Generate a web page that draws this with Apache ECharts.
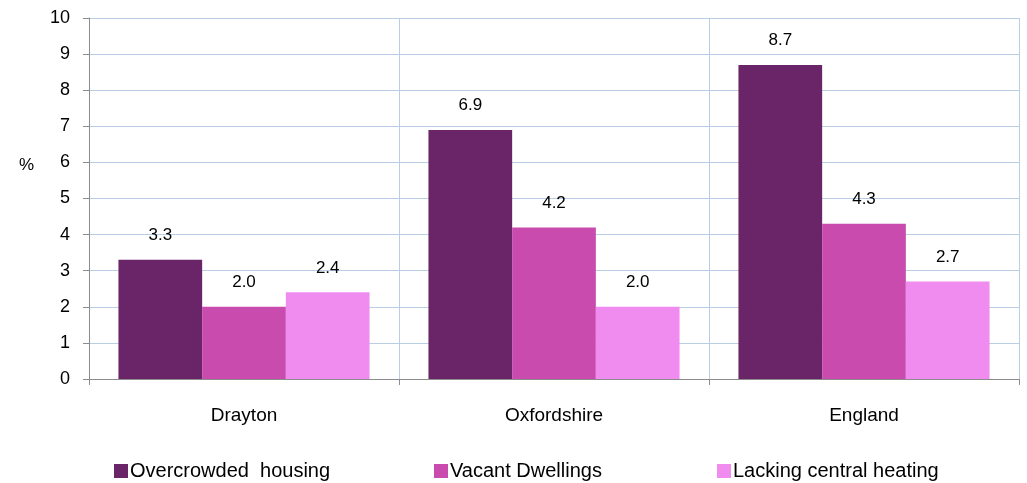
<!DOCTYPE html>
<html>
<head>
<meta charset="utf-8">
<script src="https://cdn.jsdelivr.net/npm/echarts@6/dist/echarts.min.js"></script>
<style>
  html, body { margin: 0; padding: 0; background: #fff; }
  #chart { width: 1027px; height: 483px; }
</style>
</head>
<body>
<div id="chart"></div>
<script>
// Housing indicators (%) by area
const categories = ['Drayton', 'Oxfordshire', 'England'];
const seriesNames = ['Overcrowded  housing', 'Vacant Dwellings', 'Lacking central heating'];
const overcrowded = [3.3, 6.9, 8.7];
const vacant = [2.0, 4.2, 4.3];
const lackingHeating = [2.4, 2.0, 2.7];
const yTicks = [0, 1, 2, 3, 4, 5, 6, 7, 8, 9, 10];

const colors = ['#6A2468', '#C84BAD', '#F08CEF'];
const FONT = '"Liberation Sans", Arial, sans-serif';
const gridLineColor = '#B9CDE5';

const chart = echarts.init(document.getElementById('chart'), null, { renderer: 'canvas' });

function barSeries(name, data, color) {
  return {
    name: name,
    type: 'bar',
    data: data,
    barGap: '0%',
    barCategoryGap: '19%',
    itemStyle: { color: color },
    label: {
      show: true,
      position: 'top',
      distance: 16,
      color: '#000',
      fontFamily: FONT,
      fontSize: 17,
      formatter: p => p.value.toFixed(1)
    }
  };
}

const legendLefts = [109, 429, 712];

chart.setOption({
  animation: false,
  textStyle: { fontFamily: FONT },
  grid: { left: 89, right: 8, top: 18, bottom: 104, containLabel: false },
  xAxis: {
    type: 'category',
    data: categories,
    axisLine: { lineStyle: { color: '#8C8C8C', width: 1 } },
    axisTick: { show: true, length: 6, lineStyle: { color: '#8C8C8C' } },
    axisLabel: { color: '#000', fontSize: 19, fontFamily: FONT, margin: 27 },
    splitLine: { show: true, lineStyle: { color: gridLineColor, width: 1 } }
  },
  yAxis: {
    type: 'value',
    min: yTicks[0],
    max: yTicks[yTicks.length - 1],
    interval: 1,
    axisLine: { show: true, lineStyle: { color: '#8C8C8C', width: 1 } },
    axisTick: { show: true, length: 6, lineStyle: { color: '#8C8C8C' } },
    axisLabel: { color: '#000', fontSize: 18, fontFamily: FONT, margin: 19 },
    splitLine: { show: true, lineStyle: { color: gridLineColor, width: 1 } }
  },
  legend: seriesNames.map((n, i) => ({
    data: [n],
    left: legendLefts[i],
    top: 456,
    itemWidth: 14,
    itemHeight: 14,
    itemGap: 0,
    icon: 'rect',
    selectedMode: false,
    textStyle: { color: '#000', fontSize: 20, fontFamily: FONT, padding: [0, 0, 0, -3] }
  })),
  graphic: [{
    type: 'text',
    left: 19,
    top: 157,
    style: { text: '%', fill: '#000', font: '17px ' + FONT }
  }],
  series: [
    barSeries(seriesNames[0], overcrowded, colors[0]),
    barSeries(seriesNames[1], vacant, colors[1]),
    barSeries(seriesNames[2], lackingHeating, colors[2])
  ]
});
</script>
</body>
</html>
